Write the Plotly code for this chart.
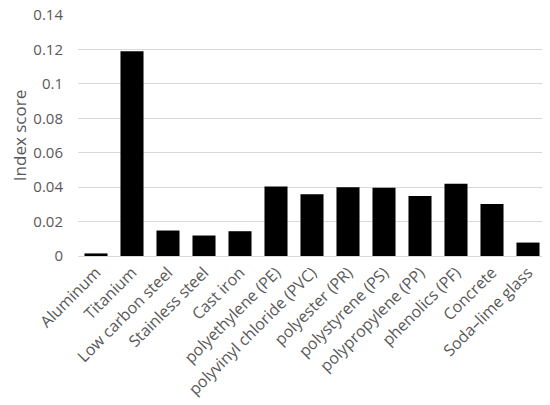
import plotly.graph_objects as go

materials = [
    "Aluminum", "Titanium", "Low carbon steel", "Stainless steel", "Cast iron",
    "polyethylene (PE)", "polyvinyl chloride (PVC)", "polyester (PR)",
    "polystyrene (PS)", "polypropylene (PP)", "phenolics (PF)", "Concrete",
    "Soda\u2013lime glass",
]
index_score = [
    0.0015, 0.119, 0.0148, 0.0119, 0.0144,
    0.0404, 0.0359, 0.040, 0.0396, 0.0349, 0.0419, 0.0302, 0.0078,
]
y_ticks = [0, 0.02, 0.04, 0.06, 0.08, 0.1, 0.12, 0.14]

grey = "#595959"

fig = go.Figure(
    go.Bar(
        x=materials,
        y=index_score,
        marker=dict(color="black", line=dict(width=0)),
    )
)

# page body adds an 8px margin, so the figure is sized/margined to compensate
fig.update_layout(
    width=542,
    height=397,
    margin=dict(l=70, r=4, t=7, b=149),
    plot_bgcolor="white",
    paper_bgcolor="white",
    bargap=0.36,
    showlegend=False,
    font=dict(family="Open Sans, Lato, sans-serif", color=grey, size=14),
)
fig.update_xaxes(
    tickangle=-45,
    tickfont=dict(size=16, color=grey),
    showline=True,
    linecolor="#d9d9d9",
    ticks="",
    automargin=False,
    ticklabeloverflow="allow",
)
fig.update_yaxes(
    range=[0, 0.14],
    tickvals=y_ticks,
    ticktext=["0", "0.02", "0.04", "0.06", "0.08", "0.1", "0.12", "0.14"],
    tickfont=dict(size=15, color=grey),
    gridcolor="#d9d9d9",
    zeroline=False,
    title=dict(text="Index score", font=dict(size=17, color=grey), standoff=15),
    ticklabelstandoff=14,
    ticklabeloverflow="allow",
    automargin=False,
)

fig.write_html("out.html")
